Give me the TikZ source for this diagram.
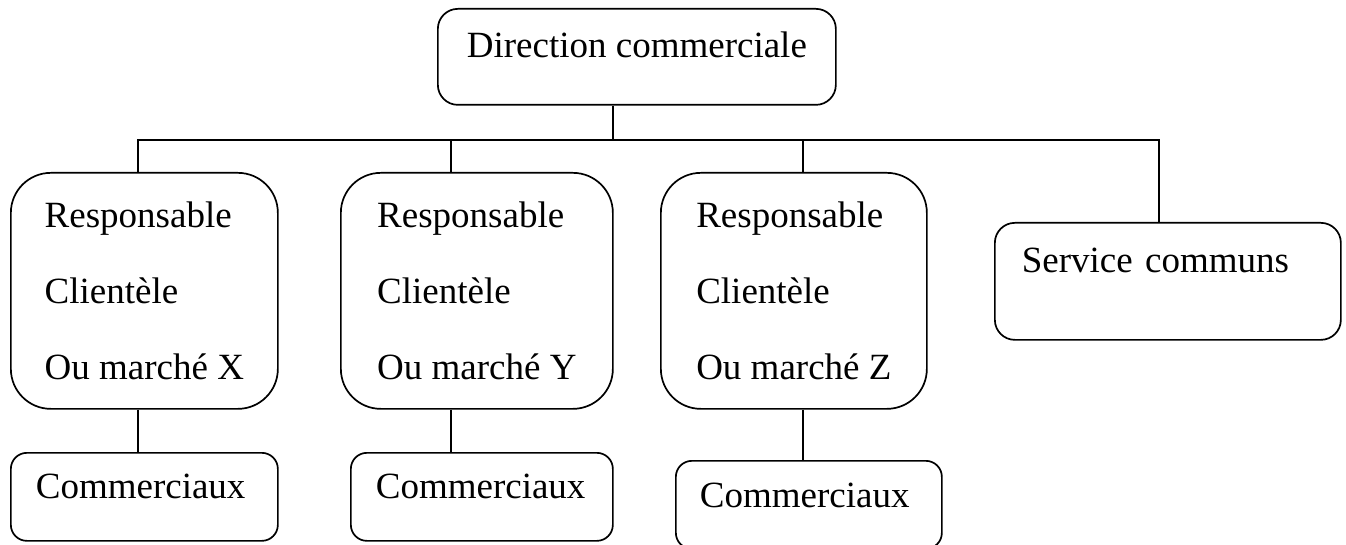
\documentclass[tikz,border=0pt]{standalone}
\usepackage{fontspec}
\setmainfont{Liberation Serif}
\begin{document}
\begin{tikzpicture}[x=1pt,y=-1pt,
  box/.style={draw, line width=1.7pt, inner sep=0pt, anchor=north west,
    font=\fontsize{37}{76}\selectfont},
  resp/.style={box, rounded corners=40pt, minimum height=236pt, align=left},
  com/.style={box, rounded corners=16pt, align=left, inner xsep=25pt, text height=46pt, text depth=42pt},
  link/.style={line width=1.7pt}]
\useasboundingbox (0,0) rectangle (1346,545);

\node[box, rounded corners=20pt, minimum width=398pt, text height=49pt, text depth=47pt] (dc) at (437,8) {Direction commerciale};

\node[resp, minimum width=267pt] (rx) at (10,172) {Responsable\\Clientèle\\Ou marché X};
\node[resp, minimum width=272pt] (ry) at (340,172) {Responsable\\Clientèle\\Ou marché Y};
\node[resp, minimum width=266pt] (rz) at (660,172) {Responsable\\Clientèle\\Ou marché Z};

\node[box, rounded corners=20pt, align=left, inner xsep=27pt, text width=292pt, text height=50pt, text depth=67pt] (sc) at (994,222) {Service communs};

\node[com, text width=217pt] (cx) at (10,452) {Commerciaux};
\node[com, text width=212pt] (cy) at (350,452) {Commerciaux};
\node[com, text width=218pt, inner xsep=24pt, text height=47pt, text depth=41pt] (cz) at (675,460) {Commerciaux};

\coordinate (bl) at (138,140);
\coordinate (bm) at (613,140);
\coordinate (by) at (451,140);
\coordinate (bz) at (803,140);
\coordinate (br) at (1159,140);

\draw[link] (dc.south -| bm) -- (bm);
\draw[link] (rx.north -| bl) -- (bl) -- (br) -- (sc.north -| br);
\draw[link] (by) -- (ry.north -| by);
\draw[link] (bz) -- (rz.north -| bz);

\draw[link] (rx.south -| bl) -- (cx.north -| bl);
\draw[link] (ry.south -| by) -- (cy.north -| by);
\draw[link] (rz.south -| bz) -- (cz.north -| bz);
\end{tikzpicture}
\end{document}
